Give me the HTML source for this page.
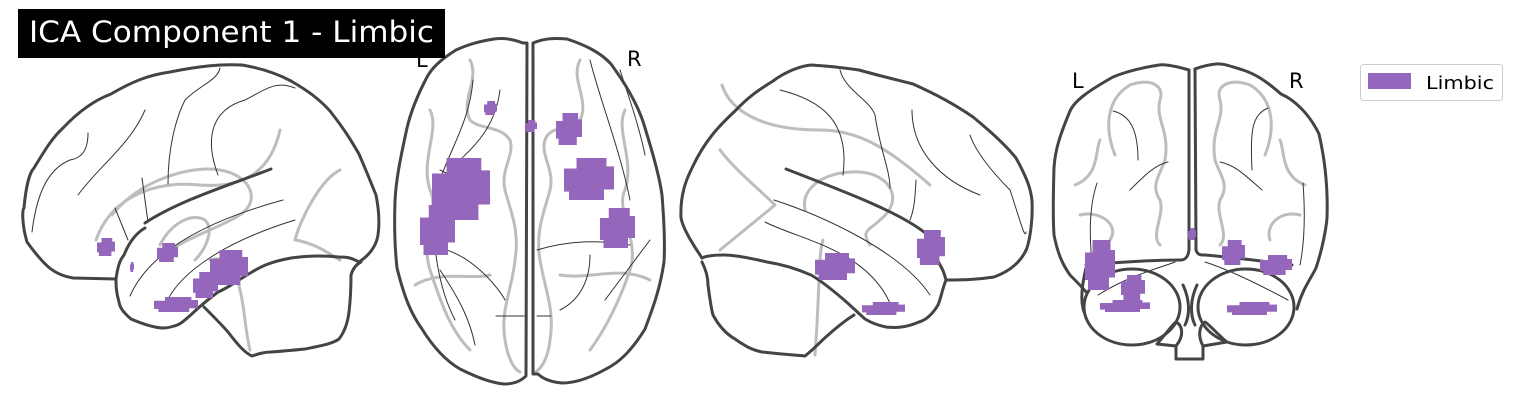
<!DOCTYPE html>
<html><head><meta charset="utf-8"><style>
html,body{margin:0;padding:0;background:#fff;}
svg{display:block;font-family:"DejaVu Sans","Liberation Sans",sans-serif;}
</style></head><body>
<svg width="1518" height="420" viewBox="0 0 1518 420">
<g fill="none" stroke-linecap="round" stroke-linejoin="round">
<!-- Left sagittal -->
<g>
 <g stroke="#bdbdbd" stroke-width="3">
  <path d="M96,240 C110,200 150,180 200,185 C240,188 270,175 280,130"/>
  <path d="M112,215 C140,180 190,165 220,170 C250,175 262,200 240,215 C215,230 180,240 165,255"/>
  <path d="M160,245 C170,225 190,212 205,220 C215,230 205,250 195,260"/>
  <path d="M210,260 C225,255 235,265 240,290 C245,310 245,330 250,350"/>
  <path d="M295,240 C300,220 320,180 340,170"/>
  <path d="M296,240 C320,245 330,255 340,260"/>
 </g>
 <g stroke="#333" stroke-width="1">
  <path d="M32,232 C36,200 45,170 70,160 C82,158 88,150 88,133"/>
  <path d="M78,195 C100,165 130,145 145,110"/>
  <path d="M168,184 C168,150 175,120 185,100 C200,85 218,80 220,68"/>
  <path d="M218,175 C205,140 210,110 245,100 C265,90 275,80 295,88"/>
  <path d="M115,208 L128,240"/><path d="M142,178 L148,222"/>
  <path d="M130,296 C150,250 210,220 283,200"/>
  <path d="M165,305 C180,270 230,240 295,220"/>
 </g>
 <g stroke="#444" stroke-width="3">
  <path d="M116,279 L73,278 C55,275 46,268 27,242 C22,225 22,210 24,208 C26,185 30,172 34,168 C45,150 52,138 63,128 C80,110 95,100 111,94 C135,80 150,75 170,72 C200,66 220,64 242,65 C260,68 278,74 291,81 C310,92 320,100 330,111 C345,130 352,142 359,154 C368,175 372,185 376,195 C380,215 379,228 378,235 C376,248 368,256 359,262"/>
  <path d="M359,262 C350,257 345,257 339,257 C320,255 305,256 291,258 C270,262 262,266 252,272 C235,282 228,288 218,292 C205,302 200,306 194,312 C185,320 180,325 174,326 C165,329 160,328 155,327 C145,325 138,322 131,319 C123,312 120,308 119,302 C116,292 116,285 116,279 C118,265 120,260 124,255 C130,240 138,232 145,228"/>
  <path d="M145,223 C180,200 230,185 271,169"/>
  <path d="M204,307 C215,318 222,325 228,332 C238,345 245,353 252,356 C258,354 264,352 271,352 C285,351 295,350 305,349 C320,346 332,344 339,339 C346,330 348,320 349,312 C351,295 351,285 351,275 C353,268 357,264 361,262"/>
 </g>
</g>
<!-- Axial -->
<g>
 <g stroke="#bdbdbd" stroke-width="3">
  <path d="M470,60 C480,80 460,100 470,120 C480,130 500,125 510,140 C515,155 500,170 505,190 C510,210 520,230 515,260 C512,290 500,310 505,340 C508,360 515,370 520,372"/>
  <path d="M580,60 C570,80 590,100 580,120 C570,130 550,125 545,140 C540,155 555,170 550,190 C545,210 535,230 540,260 C545,290 555,310 550,340 C548,360 540,370 535,372"/>
  <path d="M430,110 C440,130 420,160 430,190 C440,210 420,240 430,270 C440,300 450,330 470,350"/>
  <path d="M625,110 C615,130 635,160 625,190 C615,210 640,240 630,270 C620,300 605,330 590,350"/>
  <path d="M415,285 C440,270 470,280 490,275"/><path d="M560,275 C590,280 620,265 650,280"/>
 </g>
 <g stroke="#333" stroke-width="1">
  <path d="M440,170 C460,180 480,190 490,200"/><path d="M432,247 C470,250 500,290 505,300"/>
  <path d="M435,248 C440,290 450,310 455,320"/><path d="M473,80 C470,120 450,150 440,180"/>
  <path d="M500,90 C495,130 470,150 460,160"/><path d="M620,70 C630,100 640,130 645,155"/>
  <path d="M590,60 C600,100 620,150 630,200"/><path d="M537,250 C570,240 600,240 630,245"/>
  <path d="M605,300 C620,280 635,260 650,240"/><path d="M560,310 C580,300 590,280 590,255"/>
  <path d="M440,270 C460,300 470,320 475,345"/><path d="M496,316 L524,316"/><path d="M537,316 L551,316"/>
 </g>
 <g stroke="#444" stroke-width="3">
  <path d="M523,43 C510,38 500,38 494,39 C475,42 465,46 456,50 C440,60 432,68 427,77 C415,100 410,115 407,128 C400,160 396,180 395,201 C394,230 395,250 397,268 C405,300 412,315 422,329 C435,350 448,362 460,369 C478,378 492,383 504,384 C515,384 522,380 526,376 L527,43 Z"/>
  <path d="M533,43 C545,38 555,38 567,39 C585,45 600,52 611,64 C630,90 640,110 645,128 C655,160 660,180 662,195 C664,220 665,245 664,262 C660,290 652,310 645,329 C632,350 620,362 606,369 C590,378 575,383 562,383 C550,382 542,378 538,374 L533,374 Z"/>
 </g>
</g>
<!-- Right sagittal -->
<g>
 <g stroke="#bdbdbd" stroke-width="3">
  <path d="M722,85 C730,110 760,130 820,130 C860,130 890,150 930,185"/>
  <path d="M720,150 C735,170 760,190 775,205 L720,250"/>
  <path d="M805,210 C800,185 830,170 860,172 C890,174 905,200 880,220 C870,230 860,230 870,245"/>
  <path d="M823,240 C818,255 820,290 815,355"/>
 </g>
 <g stroke="#333" stroke-width="1">
  <path d="M780,90 C820,100 850,120 843,175"/><path d="M840,70 C845,90 870,100 875,115 C880,150 890,170 890,188"/>
  <path d="M912,110 C912,150 940,180 980,195"/><path d="M970,135 C975,150 990,170 1010,190 C1020,220 1025,240 1026,232"/>
  <path d="M774,200 C820,215 900,250 930,295"/><path d="M765,222 C800,240 870,250 892,308"/>
  <path d="M916,180 C915,200 914,210 910,220"/>
 </g>
 <g stroke="#444" stroke-width="3">
  <path d="M702,258 C690,240 683,228 681,218 C680,195 686,180 692,168 C705,140 720,125 735,111 C750,95 762,88 773,81 C785,72 800,66 811,65 C830,66 845,68 859,70 C880,76 898,80 913,84 C940,96 960,108 973,117 C995,135 1008,148 1016,158 C1028,180 1031,190 1032,201 C1033,220 1030,238 1027,248 C1020,265 1005,273 994,277 C975,280 960,280 946,280"/>
  <path d="M946,280 C942,290 941,298 938,305 C932,315 926,320 919,322 C905,328 895,328 886,327 C876,325 870,322 865,319 C855,310 850,305 843,299 C830,288 820,280 811,275 C795,268 780,264 767,262 C750,258 735,255 724,255 C712,255 706,256 702,258"/>
  <path d="M702,262 C706,270 708,278 708,285 C710,300 711,308 713,315 C720,328 728,335 735,339 C745,346 752,350 762,352 C780,354 795,355 805,356 C815,348 820,342 827,336 C838,326 846,320 854,315"/>
  <path d="M946,280 C944,272 942,268 940,265 C935,255 932,248 930,242"/>
  <path d="M786,169 C840,190 895,210 924,232"/>
 </g>
</g>
<!-- Coronal -->
<g>
 <g stroke="#bdbdbd" stroke-width="3">
  <path d="M1115,155 C1105,130 1105,100 1130,85 C1150,78 1165,85 1160,100 C1155,120 1170,130 1165,160 C1160,175 1150,185 1160,200 C1165,215 1150,235 1160,245"/>
  <path d="M1265,155 C1275,130 1275,100 1250,85 C1230,78 1215,85 1220,100 C1225,120 1210,130 1215,160 C1220,175 1230,185 1220,200 C1215,215 1230,235 1220,245"/>
  <path d="M1100,140 C1095,150 1100,175 1075,185"/><path d="M1280,140 C1285,150 1280,175 1305,185"/>
  <path d="M1080,215 C1100,210 1120,225 1110,240"/><path d="M1300,215 C1280,210 1265,225 1270,240"/>
 </g>
 <g stroke="#333" stroke-width="1">
  <path d="M1113,111 C1130,115 1138,130 1138,160"/><path d="M1268,108 C1252,115 1250,130 1252,170"/>
  <path d="M1130,190 C1145,175 1155,165 1168,162"/><path d="M1220,162 C1235,165 1245,175 1262,190"/>
  <path d="M1097,183 C1088,210 1090,240 1092,265"/><path d="M1303,183 C1305,210 1305,240 1300,265"/>
  <path d="M1098,295 C1130,275 1160,268 1175,262"/><path d="M1205,262 C1230,270 1260,285 1288,300"/>
 </g>
 <g stroke="#444" stroke-width="3">
  <path d="M1189,70 C1175,66 1165,64 1159,65 C1140,68 1125,72 1113,77 C1090,90 1075,100 1070,111 C1060,135 1055,150 1054,168 C1053,200 1053,220 1054,235 C1058,255 1063,265 1070,275 C1078,283 1083,288 1086,292"/>
  <path d="M1195,69 C1198,68 1205,65 1216,64 C1222,63 1230,66 1243,70 C1255,74 1265,80 1281,94 C1295,100 1310,115 1319,134 C1325,160 1328,190 1327,218 C1326,230 1322,250 1316,268 C1310,280 1302,290 1297,309"/>
  <path d="M1189,70 L1189,250 C1188,258 1184,260 1181,260"/>
  <path d="M1195,69 L1196,250 C1198,256 1202,255 1205,255"/>
  <path d="M1086,265 C1120,262 1150,260 1181,260"/><path d="M1205,255 C1240,258 1270,262 1292,265"/>
  <path d="M1086,268 C1082,285 1080,300 1084,312"/>
  <ellipse cx="1132" cy="307" rx="48" ry="38"/><ellipse cx="1246" cy="307" rx="48" ry="38"/>
  <path d="M1157,344 C1165,335 1172,325 1176,322 C1182,325 1185,335 1176,346 Z"/>
  <path d="M1227,342 C1218,335 1210,325 1205,322 C1200,325 1197,335 1203,346 Z"/>
  <path d="M1176,346 L1176,359 L1203,359 L1203,346"/>
  <path d="M1183,285 C1190,300 1190,315 1185,325"/><path d="M1197,285 C1190,300 1190,315 1195,325"/>
 </g>
</g>
</g>
<g id="blobs"></g>
<!-- Orientation labels -->
<text x="416" y="67" font-size="21" fill="#000">L</text>
<text x="627" y="66" font-size="21" fill="#000">R</text>
<text x="1072" y="88" font-size="21" fill="#000">L</text>
<text x="1289" y="88" font-size="21" fill="#000">R</text>
<!-- Title -->
<rect x="18" y="9" width="427" height="49" fill="#000"/>
<text x="29" y="42" fill="#fff" font-size="29" textLength="405" lengthAdjust="spacingAndGlyphs">ICA Component 1 - Limbic</text>
<!-- Legend -->
<g>
 <rect x="1360.5" y="64.5" width="142" height="36" rx="3" fill="#fff" stroke="#ccc" stroke-width="1"/>
 <rect x="1368" y="73" width="43" height="16" fill="#9467bd"/>
 <text x="1426" y="89" font-size="18" fill="#000" textLength="68" lengthAdjust="spacingAndGlyphs">Limbic</text>
</g>
</svg>
<script>
// cluster extents per view (approximate voxel regions, in view space)
const clusterViews = ["sag-l","sag-l","sag-l","sag-l","sag-l","sag-l","ax","ax","ax","ax","ax","ax","ax","sag-r","sag-r","sag-r","cor","cor","cor","cor","cor","cor","cor"];
const clusterX0 = [97,157,130,193,210,154,484,525,556,432,420,564,600,815,862,917,1085,1121,1100,1222,1260,1227,1188];
const clusterX1 = [115,178,134,218,248,198,497,537,582,490,455,614,635,855,905,945,1115,1145,1150,1245,1292,1277,1196];
const clusterY0 = [238,243,262,272,250,297,101,120,113,158,205,158,208,253,302,230,240,275,300,240,255,302,228];
const clusterY1 = [256,262,272,298,285,312,115,132,145,220,255,200,248,280,315,265,290,300,312,265,275,315,240];
const g = document.getElementById('blobs');
const NS = 'http://www.w3.org/2000/svg';
for (let i = 0; i < clusterX0.length; i++) {
  const x0 = clusterX0[i], x1 = clusterX1[i], y0 = clusterY0[i], y1 = clusterY1[i];
  const w = x1 - x0, h = y1 - y0;
  const p = document.createElementNS(NS, 'path');
  const d = `M${x0+w*0.25},${y0} L${x1-w*0.15},${y0} L${x1-w*0.15},${y0+h*0.2} L${x1},${y0+h*0.2} L${x1},${y1-h*0.25} L${x1-w*0.2},${y1-h*0.25} L${x1-w*0.2},${y1} L${x0+w*0.1},${y1} L${x0+w*0.1},${y1-h*0.2} L${x0},${y1-h*0.2} L${x0},${y0+h*0.25} L${x0+w*0.25},${y0+h*0.25} Z`;
  p.setAttribute('d', d);
  p.setAttribute('fill', '#9467bd');
  
  
  g.appendChild(p);
}
</script>
</body></html>
